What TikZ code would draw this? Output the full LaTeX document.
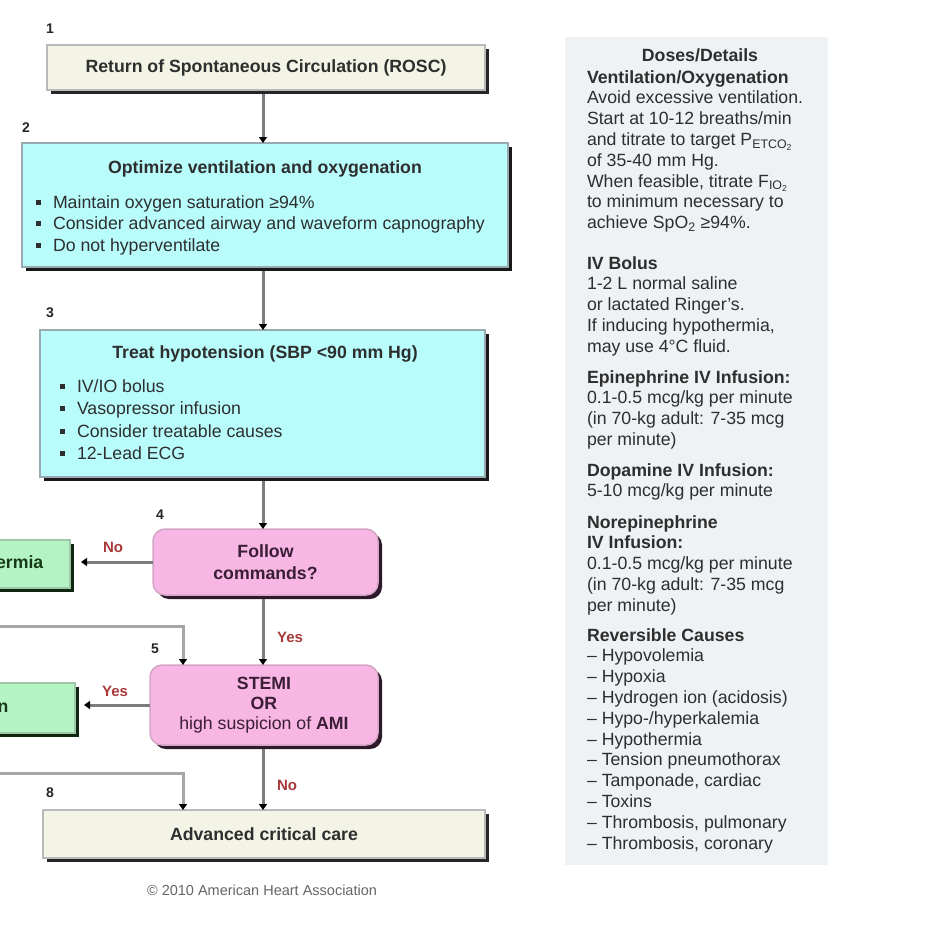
\documentclass[tikz,border=0pt]{standalone}
\usepackage{fontspec}
\setmainfont{Liberation Sans}
\usetikzlibrary{arrows.meta,shadows,calc}
\definecolor{creamf}{HTML}{F4F4E6}
\definecolor{cyanf}{HTML}{B8FCFC}
\definecolor{pinkf}{HTML}{F8B6E4}
\definecolor{greenf}{HTML}{B4F4C4}
\definecolor{panelf}{HTML}{EEF2F4}
\definecolor{txt}{HTML}{2E2E2E}
\definecolor{labc}{HTML}{A83A3A}
\definecolor{connc}{HTML}{7C7C7C}
\definecolor{loopc}{HTML}{A6A6A6}
\definecolor{pinktxt}{HTML}{3A1E36}
\definecolor{greentxt}{HTML}{163816}
\newcommand\bulsq{\makebox[17pt][l]{\rule[3.5pt]{5pt}{5pt}}}
\newcommand\pln[3]{\node[ptext] (#1) at (587,#2) {#3};}
\begin{document}
\begin{tikzpicture}[x=1pt,y=-1pt,
  every node/.style={inner sep=0pt, outer sep=0pt, text=txt},
  fs/.style={font=\fontsize{17.7}{21.5}\selectfont},
  fsb/.style={font=\fontsize{17.7}{21.5}\selectfont\bfseries},
  boxbase/.style={line width=1.5pt},
  creambox/.style={boxbase, fsb, fill=creamf, draw=gray!55,
    drop shadow={shadow xshift=4pt, shadow yshift=-4pt, fill=black!85, opacity=1}},
  cyanbox/.style={boxbase, fill=cyanf, draw=gray!60!cyan!60!black!60,
    drop shadow={shadow xshift=4pt, shadow yshift=-4pt, fill=black!90, opacity=1}},
  pinkbox/.style={boxbase, fsb, align=center, text=pinktxt, fill=pinkf, draw=pinkf!70!gray, rounded corners=12pt,
    drop shadow={shadow xshift=4pt, shadow yshift=-4pt, fill=pinktxt!80!black, opacity=1}},
  greenbox/.style={boxbase, fsb, text=greentxt, fill=greenf, draw=greenf!60!gray,
    drop shadow={shadow xshift=4pt, shadow yshift=-4pt, fill=greentxt!70!black, opacity=1}},
  arrowln/.style={draw=connc, line width=3pt, -{Triangle[length=6pt,width=8pt,color=black]}},
  loopln/.style={draw=loopc, line width=3pt, -{Triangle[length=6pt,width=8pt,color=black]}},
  labs/.style={font=\fontsize{15}{18}\selectfont\bfseries, text=labc},
  nums/.style={font=\fontsize{14}{16}\selectfont\bfseries, text=black!85},
  ptext/.style={font=\fontsize{17.7}{20.8}\selectfont, anchor=base west},
  btext/.style={fs, anchor=base west}
]
\useasboundingbox (0,0) rectangle (944,938);
\clip (0,0) rectangle (944,938);
\fill[white] (0,0) rectangle (944,938);

% ---------- right panel ----------
\node[fill=panelf, minimum width=263pt, minimum height=828pt, anchor=north west] (panel) at (565,37) {};
\node[font=\fontsize{17.7}{20.8}\selectfont\bfseries, anchor=base] (pdd) at (700,61) {Doses/Details};
\pln{p1}{83}{\bfseries Ventilation/Oxygenation}
\pln{p2}{103.8}{Avoid excessive ventilation.}
\pln{p3}{124.6}{Start at 10-12 breaths/min}
\pln{p4}{145.4}{and titrate to target P\textsubscript{ETCO\textsubscript{2}}}
\pln{p5}{166.2}{of 35-40 mm Hg.}
\pln{p6}{187}{When feasible, titrate F\textsubscript{IO\textsubscript{2}}}
\pln{p7}{207.8}{to minimum necessary to}
\pln{p8}{228.6}{achieve SpO\textsubscript{2} ≥94\%.}
\pln{p9}{269}{\bfseries IV Bolus}
\pln{p10}{289.8}{1-2 L normal saline}
\pln{p11}{310.6}{or lactated Ringer's.}
\pln{p12}{331.4}{If inducing hypothermia,}
\pln{p13}{352.2}{may use 4°C fluid.}
\pln{p14}{383}{\bfseries Epinephrine IV Infusion:}
\pln{p15}{403.8}{0.1-0.5 mcg/kg per minute}
\pln{p16}{424.6}{(in 70-kg adult: 7-35 mcg}
\pln{p17}{445.4}{per minute)}
\pln{p18}{476}{\bfseries Dopamine IV Infusion:}
\pln{p19}{496.8}{5-10 mcg/kg per minute}
\pln{p20}{528}{\bfseries Norepinephrine}
\pln{p21}{548.8}{\bfseries IV Infusion:}
\pln{p22}{569.6}{0.1-0.5 mcg/kg per minute}
\pln{p23}{590.4}{(in 70-kg adult: 7-35 mcg}
\pln{p24}{611.2}{per minute)}
\pln{p25}{641}{\bfseries Reversible Causes}
\pln{p26}{661.8}{– Hypovolemia}
\pln{p27}{682.6}{– Hypoxia}
\pln{p28}{703.4}{– Hydrogen ion (acidosis)}
\pln{p29}{724.2}{– Hypo-/hyperkalemia}
\pln{p30}{745}{– Hypothermia}
\pln{p31}{765.8}{– Tension pneumothorax}
\pln{p32}{786.6}{– Tamponade, cardiac}
\pln{p33}{807.4}{– Toxins}
\pln{p34}{828.2}{– Thrombosis, pulmonary}
\pln{p35}{849}{– Thrombosis, coronary}

% ---------- flow boxes ----------
\node[creambox, minimum width=438pt, minimum height=45pt, anchor=north west] (rosc) at (47,45) {Return of Spontaneous Circulation (ROSC)};
\node[cyanbox, minimum width=486pt, minimum height=124pt, anchor=north west] (opt) at (22,143) {};
\node[cyanbox, minimum width=445pt, minimum height=147pt, anchor=north west] (hyp) at (40,330) {};
\node[pinkbox, minimum width=225pt, minimum height=66pt, anchor=north west] (fol) at (153,529) {Follow\\commands?};
\node[pinkbox, minimum width=228pt, minimum height=80pt, anchor=north west, font=\fontsize{17.7}{20}\selectfont] (stemi) at (150,665) {\textbf{STEMI}\\\textbf{OR}\\high suspicion of \textbf{AMI}};
\node[creambox, minimum width=442pt, minimum height=48pt, anchor=north west] (adv) at (43,810) {Advanced critical care};
\node[greenbox, minimum width=314pt, minimum height=48pt, anchor=east] (hypo) at (70,564) {Consider induced hypothermia};
\node[greenbox, minimum width=314pt, minimum height=50pt, anchor=east] (reperf) at (75,708) {Coronary reperfusion};

% box texts
\node[fsb, anchor=base] (optT) at (265,173) {Optimize ventilation and oxygenation};
\node[btext] (optA) at (36,208) {\bulsq Maintain oxygen saturation ≥94\%};
\node[btext] (optB) at (36,229) {\bulsq Consider advanced airway and waveform capnography};
\node[btext] (optC) at (36,251) {\bulsq Do not hyperventilate};
\node[fsb, anchor=base] (hypT) at (265,358) {Treat hypotension (SBP <90 mm Hg)};
\node[btext] (hypA) at (60,392) {\bulsq IV/IO bolus};
\node[btext] (hypB) at (60,414) {\bulsq Vasopressor infusion};
\node[btext] (hypC) at (60,437) {\bulsq Consider treatable causes};
\node[btext] (hypD) at (60,459) {\bulsq 12-Lead ECG};

% step numbers
\node[nums] (s1) at (50,29) {1};
\node[nums] (s2) at (26,128) {2};
\node[nums] (s3) at (50,313) {3};
\node[nums] (s4) at (160,515) {4};
\node[nums] (s5) at (155,649) {5};
\node[nums] (s8) at (50,793) {8};

% ---------- connectors ----------
\coordinate (mx) at (263,0);
\coordinate (tipA) at (81,0);
\coordinate (tipB) at (84,0);
\coordinate (j1) at (183,626);
\coordinate (j2) at (183,773);
\draw[arrowln] ($(mx |- rosc.south)+(0,4)$) -- (mx |- opt.north);
\draw[arrowln] ($(mx |- opt.south)+(0,4)$) -- (mx |- hyp.north);
\draw[arrowln] ($(mx |- hyp.south)+(0,4)$) -- (mx |- fol.north);
\draw[arrowln] (fol.west) -- (fol.west -| tipA);
\draw[arrowln] ($(mx |- fol.south)+(0,4)$) -- (mx |- stemi.north);
\draw[arrowln] (stemi.west) -- (stemi.west -| tipB);
\draw[arrowln] ($(mx |- stemi.south)+(0,4)$) -- (mx |- adv.north);
\draw[loopln] ($(hypo.south)+(0,4)$) |- (j1) -- (j1 |- stemi.north);
\draw[loopln] ($(reperf.south)+(0,4)$) |- (j2) -- (j2 |- adv.north);

% labels
\node[labs] (noA) at (113,547) {No};
\node[labs] (yesA) at (290,637) {Yes};
\node[labs] (yesB) at (115,691) {Yes};
\node[labs] (noB) at (287,785) {No};

% footer
\node[font=\fontsize{14.5}{17}\selectfont, text=black!60] (copy) at (262,890) {© 2010 American Heart Association};
\end{tikzpicture}
\end{document}
